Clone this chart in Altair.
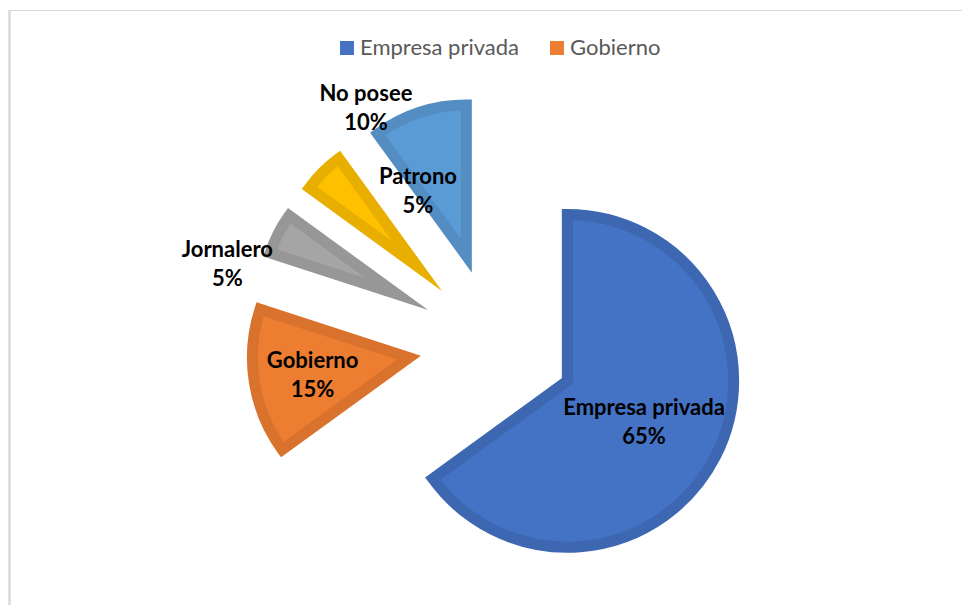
import altair as alt
import pandas as pd

# ---- data ----
categories = ["Empresa privada", "Gobierno", "Jornalero", "Patrono", "No posee"]
percent = [65, 15, 5, 5, 10]

# ---- styles ----
fill_colors = ["#4472C4", "#ED7D31", "#A5A5A5", "#FFC000", "#5B9BD5"]
edge_colors = ["#3D67B1", "#D9722D", "#979797", "#E8AF00", "#538DC2"]

# ---- label placement (Excel labels were dragged by hand): polar offset from slice tip ----
label_angle_deg = [117.9, 259.9, 282.8, 346.5, 327.3]
label_dist = [93, 110, 206, 103, 196]

# ---- layout constants (pixels, chart coordinates) ----
W, H = 954, 597
CX, CY = 487, 336      # pie centre
EXPLODE = 75           # explosion distance of every slice
R = 173.5              # outer radius (incl. border)
BW = 11                # border width
HW = BW / 2

df = pd.DataFrame({
    "cat": categories,
    "pct": percent,
    "idx": list(range(len(categories))),
    "la": label_angle_deg,
    "ld": label_dist,
})

base = (
    alt.Chart(df)
    .transform_window(p1="sum(pct)", sort=[alt.SortField("idx")], frame=[None, 0])
    .transform_calculate(a0="(datum.p1 - datum.pct) / 100 * 2 * PI")
    .transform_calculate(a1="datum.p1 / 100 * 2 * PI")
    .transform_calculate(am="(datum.a0 + datum.a1) / 2", ha="(datum.a1 - datum.a0) / 2")
    .transform_calculate(
        vx=f"{CX} + {EXPLODE} * sin(datum.am)",
        vy=f"{CY} - {EXPLODE} * cos(datum.am)",
        hs=f"{HW} / sin(datum.ha)",
    )
    .transform_calculate(
        cx2="datum.vx + datum.hs * sin(datum.am)",
        cy2="datum.vy - datum.hs * cos(datum.am)",
        rho=f"{R} - {HW} - datum.hs * (1 + cos(datum.ha)) / 2",
        lx="datum.vx + datum.ld * sin(datum.la * PI / 180)",
        ly="datum.vy - datum.ld * cos(datum.la * PI / 180)",
        label="datum.cat + '\\n' + datum.pct + '%'",
    )
)

arcs = base.mark_arc(strokeWidth=BW, strokeJoin="miter", strokeMiterLimit=10).encode(
    x=alt.X("cx2:Q", scale=None, axis=None),
    y=alt.Y("cy2:Q", scale=None, axis=None),
    theta=alt.Theta("a0:Q", scale=None, stack=False),
    theta2=alt.Theta2("a1"),
    radius=alt.Radius("rho:Q", scale=None),
    fill=alt.Fill(
        "cat:N",
        scale=alt.Scale(domain=categories, range=fill_colors),
        sort=categories,
        legend=alt.Legend(
            values=["Empresa privada", "Gobierno"],
            orient="none",
            legendX=328,
            legendY=29,
            direction="horizontal",
            title=None,
            symbolType="square",
            symbolSize=196,
            symbolStrokeWidth=0,
            labelFont="Lato",
            labelFontSize=22,
            labelColor="#595959",
            labelOffset=2,
            columnPadding=26,
            padding=0,
        ),
    ),
    stroke=alt.Stroke(
        "cat:N",
        scale=alt.Scale(domain=categories, range=edge_colors),
        legend=None,
    ),
)

labels = base.mark_text(
    font="Lato",
    fontWeight="bold",
    fontSize=22,
    lineBreak="\n",
    lineHeight=29,
    color="black",
    align="center",
    baseline="middle",
    dy=-14,
).encode(
    x=alt.X("lx:Q", scale=None, axis=None),
    y=alt.Y("ly:Q", scale=None, axis=None),
    text="label:N",
)

frame_df = pd.DataFrame({"k": [0]})
top_line = alt.Chart(frame_df).mark_rule(color="#D9D9D9", strokeWidth=1).encode(
    x=alt.value(1), x2=alt.value(W), y=alt.value(2.5), y2=alt.value(2.5)
)
left_line = alt.Chart(frame_df).mark_rule(color="#D9D9D9", strokeWidth=2.5).encode(
    x=alt.value(1.5), x2=alt.value(1.5), y=alt.value(2), y2=alt.value(H)
)

chart = (
    alt.layer(top_line, left_line, arcs, labels)
    .properties(
        width=W,
        height=H,
        padding=0,
        autosize=alt.AutoSizeParams(type="none"),
        background="white",
    )
    .configure_view(stroke=None)
)

chart.save("out.html", embed_options={"renderer": "svg", "actions": False})
